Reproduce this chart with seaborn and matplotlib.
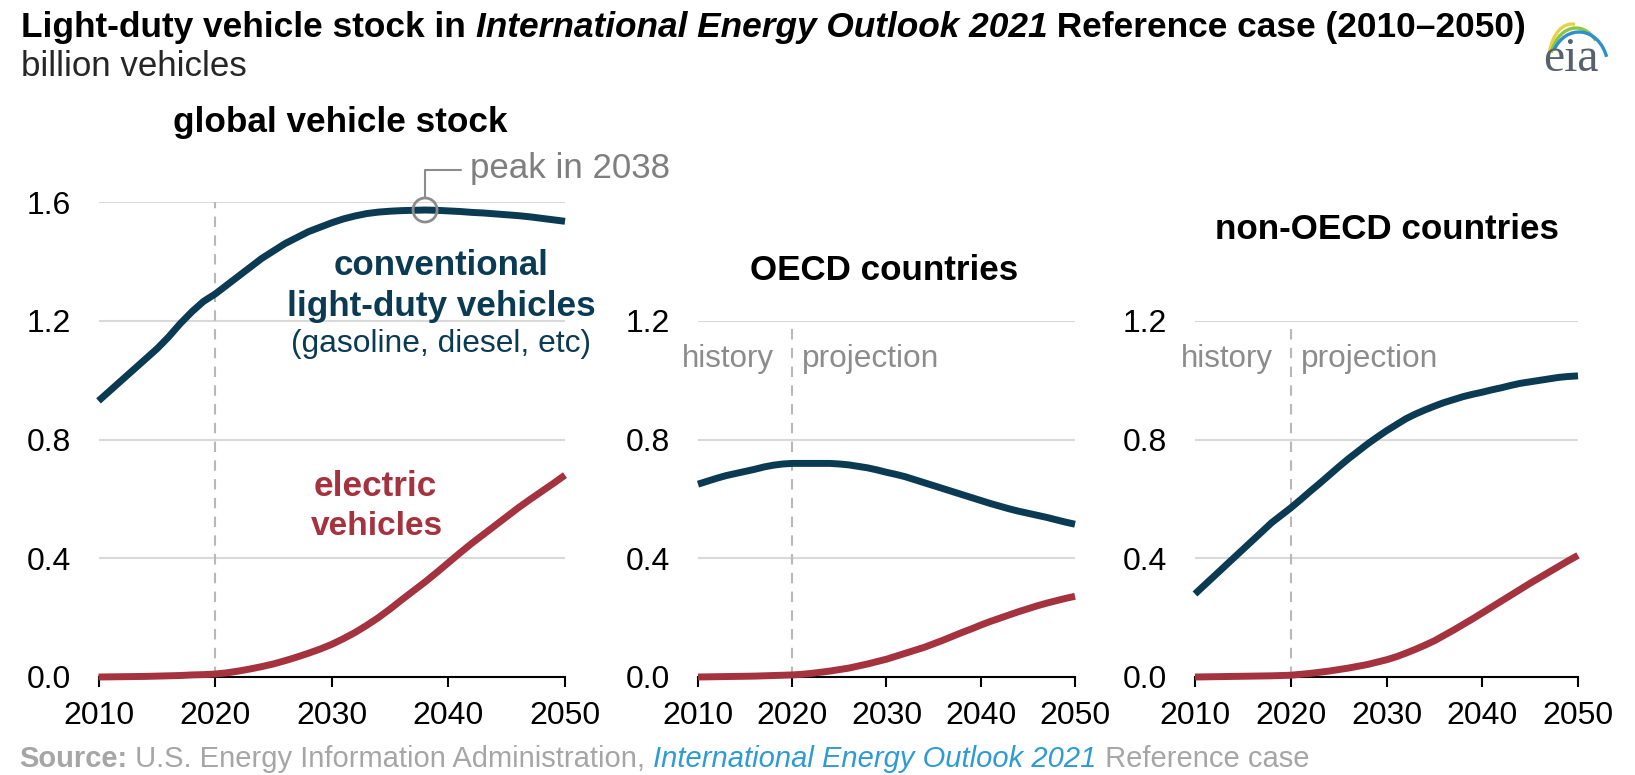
import numpy as np
import pandas as pd
import matplotlib
matplotlib.use("Agg")
import matplotlib.pyplot as plt
import seaborn as sns
from matplotlib.transforms import IdentityTransform
from matplotlib.lines import Line2D
from matplotlib.patches import Arc

# ---------------- data (billion vehicles) ----------------
years = [2010, 2011, 2012, 2013, 2014, 2015, 2016, 2017, 2018, 2019,
         2020, 2021, 2022, 2023, 2024, 2025, 2026, 2027, 2028, 2029,
         2030, 2031, 2032, 2033, 2034, 2035, 2036, 2037, 2038, 2039,
         2040, 2041, 2042, 2043, 2044, 2045, 2046, 2047, 2048, 2049, 2050]

global_conv = [0.93, 0.965, 1.00, 1.035, 1.07, 1.105, 1.145, 1.19, 1.23, 1.265,
               1.29, 1.32, 1.35, 1.38, 1.41, 1.435, 1.46, 1.48, 1.50, 1.515,
               1.53, 1.543, 1.553, 1.561, 1.566, 1.569, 1.571, 1.572, 1.573, 1.572,
               1.570, 1.568, 1.565, 1.563, 1.560, 1.557, 1.554, 1.550, 1.545, 1.540, 1.535]
global_ev = [0.0, 0.0005, 0.001, 0.0015, 0.002, 0.003, 0.004, 0.005, 0.007, 0.008,
             0.010, 0.014, 0.020, 0.027, 0.035, 0.044, 0.055, 0.067, 0.080, 0.094,
             0.110, 0.129, 0.150, 0.174, 0.200, 0.229, 0.260, 0.290, 0.320, 0.352,
             0.385, 0.418, 0.450, 0.480, 0.510, 0.540, 0.570, 0.598, 0.625, 0.652, 0.680]

oecd_conv = [0.65, 0.66, 0.67, 0.679, 0.686, 0.693, 0.70, 0.708, 0.714, 0.718,
             0.72, 0.72, 0.72, 0.72, 0.72, 0.718, 0.715, 0.71, 0.705, 0.698,
             0.69, 0.683, 0.675, 0.665, 0.655, 0.645, 0.635, 0.625, 0.615, 0.605,
             0.595, 0.585, 0.576, 0.567, 0.559, 0.552, 0.545, 0.538, 0.53, 0.522, 0.515]
oecd_ev = [0.0, 0.0005, 0.001, 0.0015, 0.002, 0.0025, 0.003, 0.004, 0.005, 0.006,
           0.007, 0.009, 0.012, 0.016, 0.020, 0.025, 0.030, 0.037, 0.044, 0.052,
           0.060, 0.070, 0.080, 0.090, 0.100, 0.112, 0.124, 0.137, 0.150, 0.162,
           0.175, 0.187, 0.198, 0.209, 0.220, 0.230, 0.240, 0.249, 0.257, 0.265, 0.272]

nonoecd_conv = [0.28, 0.31, 0.34, 0.37, 0.40, 0.43, 0.46, 0.49, 0.52, 0.545,
                0.57, 0.597, 0.625, 0.652, 0.68, 0.708, 0.735, 0.76, 0.785, 0.808,
                0.83, 0.85, 0.87, 0.886, 0.90, 0.913, 0.925, 0.935, 0.945, 0.953,
                0.96, 0.968, 0.975, 0.983, 0.99, 0.995, 1.00, 1.005, 1.01, 1.013, 1.015]
nonoecd_ev = [0.0, 0.0005, 0.001, 0.0015, 0.002, 0.0025, 0.003, 0.0035, 0.004, 0.005,
              0.006, 0.009, 0.012, 0.016, 0.020, 0.025, 0.030, 0.036, 0.042, 0.050,
              0.058, 0.068, 0.080, 0.093, 0.107, 0.122, 0.140, 0.158, 0.177, 0.196,
              0.216, 0.236, 0.256, 0.276, 0.296, 0.316, 0.335, 0.354, 0.373, 0.392, 0.410]

panel_titles = ["global vehicle stock", "OECD countries", "non-OECD countries"]
x_ticks = [2010, 2020, 2030, 2040, 2050]
history_end = 2020

title_parts = [("Light-duty vehicle stock in ", "normal"),
               ("International Energy Outlook 2021", "italic"),
               (" Reference case (2010\u20132050)", "normal")]
subtitle = "billion vehicles"
source_parts = [("Source:", "bold", "#a6a6a6"),
                (" U.S. Energy Information Administration, ", "normal", "#a6a6a6"),
                ("International Energy Outlook 2021", "italic", "#2e9bd4"),
                (" Reference case", "normal", "#a6a6a6")]

# ---------------- style ----------------
C_CONV = "#0b3a53"
C_EV = "#a4323f"
C_GRID = "#d9d9d9"
C_DASH = "#b8b8b8"
C_NOTE = "#8c8c8c"

sns.set_theme(style="white")
plt.rcParams["font.family"] = ["Liberation Sans", "DejaVu Sans"]

W, H = 1635, 775
fig = plt.figure(figsize=(W / 100, H / 100), dpi=100)
fig.patch.set_facecolor("white")
renderer = fig.canvas.get_renderer()
IDT = IdentityTransform()


def fit_text(x, y_top, s, target_w, ha="left", va="baseline", **kw):
    t = fig.text(x, H - y_top, s, transform=IDT, fontsize=20, ha=ha, va=va, **kw)
    w = t.get_window_extent(renderer).width
    t.set_fontsize(20 * target_w / w)
    return t


def style_kw(style):
    return dict(fontweight="bold" if "bold" in style else "normal",
                fontstyle="italic" if "italic" in style else "normal")


def rich_line(x, y_top, parts, target_w, fontsize0=20):
    widths = []
    for p in parts:
        t = fig.text(0, 0, p[0], fontsize=fontsize0, transform=IDT, **style_kw(p[1]))
        widths.append(t.get_window_extent(renderer).width)
        t.remove()
    fs = fontsize0 * target_w / sum(widths)
    cx = x
    for p in parts:
        col = p[2] if len(p) > 2 else "black"
        t = fig.text(cx, H - y_top, p[0], fontsize=fs, transform=IDT, color=col,
                     va="baseline", ha="left", **style_kw(p[1]))
        cx = t.get_window_extent(renderer).x1
    return fs


# Title: bold throughout, middle part italic
parts = [(s, "bold" if st == "normal" else "italicbold") for s, st in title_parts]
rich_line(21, 37, parts, 1506)
fit_text(21, 76, subtitle, 225, color="#262626")

panels = [
    dict(box=(98.5, 565, 202, 677), ymax=1.6, conv=global_conv, ev=global_ev,
         title=panel_titles[0], tpos=(340, 132, 333)),
    dict(box=(698, 1075, 321, 677), ymax=1.2, conv=oecd_conv, ev=oecd_ev,
         title=panel_titles[1], tpos=(884, 280, 268)),
    dict(box=(1195, 1578, 321, 677), ymax=1.2, conv=nonoecd_conv, ev=nonoecd_ev,
         title=panel_titles[2], tpos=(1387, 239, 344)),
]

axes = []
for i, p in enumerate(panels):
    x0, x1, yt, yb = p["box"]
    ax = fig.add_axes([x0 / W, 1 - yb / H, (x1 - x0) / W, (yb - yt) / H])
    axes.append(ax)
    ax.set_facecolor("white")
    df = pd.DataFrame({"year": years, "conv": p["conv"], "ev": p["ev"]})
    sns.lineplot(data=df, x="year", y="conv", ax=ax, color=C_CONV, linewidth=5.0,
                 solid_capstyle="butt", solid_joinstyle="round", clip_on=False, zorder=4)
    sns.lineplot(data=df, x="year", y="ev", ax=ax, color=C_EV, linewidth=5.0,
                 solid_capstyle="butt", solid_joinstyle="round", clip_on=False, zorder=4)
    ax.set_xlim(x_ticks[0], x_ticks[-1])
    ax.set_ylim(0, p["ymax"])
    yt_vals = np.round(np.arange(0, p["ymax"] + 0.001, 0.4), 1)
    ax.set_yticks(yt_vals)
    ax.set_yticklabels([f"{v:.1f}" for v in yt_vals])
    ax.set_xticks(x_ticks)
    ax.set_xticklabels([str(v) for v in x_ticks])
    ax.set_xlabel("")
    ax.set_ylabel("")
    ax.tick_params(axis="x", bottom=True, direction="out", length=7, width=1.5,
                   color="black", labelsize=23, pad=10, labelcolor="black")
    ax.tick_params(axis="y", left=False, length=0, labelsize=23, pad=20,
                   labelcolor="black")
    sns.despine(ax=ax, left=True)
    ax.spines["bottom"].set_color("black")
    ax.spines["bottom"].set_linewidth(1.5)
    ax.spines["bottom"].set_zorder(3)
    ax.grid(axis="y", color=C_GRID, linewidth=1.5)
    ax.grid(axis="x", visible=False)
    ax.set_axisbelow(True)
    ax.axvline(history_end, color=C_DASH, linewidth=1.5, linestyle=(0, (5, 4)), zorder=1)
    tx, ty, tw = p["tpos"]
    fit_text(tx, ty, p["title"], tw, ha="center", fontweight="bold", color="black")

    if i > 0:
        dx, _ = ax.transData.transform((history_end, 0))
        fit_text(dx - 18, 367, "history", 92, ha="right", color=C_NOTE)
        fit_text(dx + 10, 367, "projection", 137, ha="left", color=C_NOTE)

# annotations on global panel
ax0 = axes[0]
fit_text(441, 275, "conventional", 215, ha="center", fontweight="bold", color=C_CONV)
fit_text(441, 316, "light-duty vehicles", 308, ha="center", fontweight="bold", color=C_CONV)
fit_text(441, 352, "(gasoline, diesel, etc)", 300, ha="center", color=C_CONV)
fit_text(375, 496, "electric", 123, ha="center", fontweight="bold", color=C_EV)
fit_text(377, 535, "vehicles", 132, ha="center", fontweight="bold", color=C_EV)

pk = int(np.argmax(global_conv))
pk_year, pk_val = years[pk], global_conv[pk]
ax0.scatter([pk_year], [pk_val], s=300, facecolors="none", edgecolors=C_NOTE,
            linewidths=2, zorder=5, clip_on=False)
px, py = ax0.transData.transform((pk_year, pk_val))
fig.add_artist(Line2D([px, px, px + 36], [py + 12, H - 170, H - 170],
                      transform=IDT, color=C_NOTE, linewidth=1.5))
fit_text(px + 45, 178, f"peak in {pk_year}", 200, color="#7f7f7f")

# source line
rich_line(19, 767, source_parts, 1288)

# eia logo
fit_text(1543, 71, "eia", 56, family=["Liberation Serif", "DejaVu Serif"], color="#56616b")
for (cx, cy, w, h, t1, t2, col) in [(1572, 60, 46, 72, 85, 160, "#e6d24a"),
                                     (1576, 64, 52, 72, 50, 155, "#8dc63f"),
                                     (1579, 68, 58, 72, 22, 145, "#2b8fd0")]:
    fig.add_artist(Arc((cx, H - cy), w, h, theta1=t1, theta2=t2, transform=IDT,
                       color=col, linewidth=2.4))

fig.savefig("out.png", dpi=100, facecolor="white")
